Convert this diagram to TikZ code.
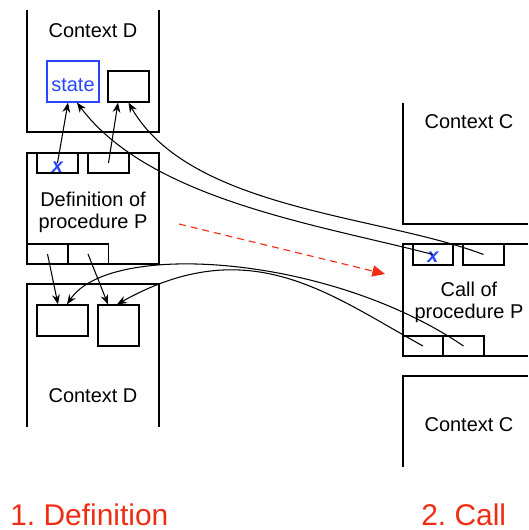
\documentclass[tikz,border=0pt]{standalone}
\usepackage{fontspec}
\setmainfont{Liberation Sans}
\usetikzlibrary{arrows.meta,calc}
\newcommand{\px}{0.25mm}
\definecolor{labelred}{RGB}{240,45,20}
\definecolor{stateblue}{RGB}{40,70,255}
\frenchspacing

\begin{document}
\begin{tikzpicture}[x=\px,y=-\px,>={Stealth[length=7pt,width=5.5pt]},
    frame/.style={line width=0.9pt},
    cell/.style={draw,line width=0.9pt,inner sep=0pt,minimum width=41*\px,minimum height=21*\px},
    link/.style={->,line width=0.75pt},
    words/.style={font=\fontsize{14.2}{15.6}\selectfont,align=center},
    xmark/.style={anchor=base,text=stateblue,inner sep=0pt,font=\fontsize{14.2}{15.6}\selectfont\bfseries\itshape},
    tag/.style={anchor=base west,text=labelred,inner sep=0pt,font=\fontsize{21.3}{24}\selectfont}]
			\useasboundingbox (0,0) rectangle (528,530);

			% the two contexts of the definition
			\draw[frame] (27,10) -- (27,132) -- (159,132) -- (159,10);
			\draw[frame] (27,153) rectangle (159,264);
			\draw[frame] (27,427) -- (27,284) -- (159,284) -- (159,427);

			% the two contexts of the call
			\draw[frame] (403,103) -- (403,224) -- (528,224);
			\draw[frame] (528,244) -- (403,244) -- (403,356) -- (528,356);
			\draw[frame] (403,467) -- (403,376) -- (528,376);

			\node[words] (ctxDtop) at (93,31) {Context D};
			\node[words] (defText) at (93,212) {Definition of\\procedure P};
			\node[words] (ctxDbot) at (93,396) {Context D};
			\node[words] (ctxCtop) at (469,122) {Context C};
			\node[words] (callText) at (469,302) {Call of\\procedure P};
			\node[words] (ctxCbot) at (469,425) {Context C};

			\node[cell,draw=stateblue,minimum width=52*\px,minimum height=41*\px,
			  label={[words,text=stateblue,yshift=-2.5pt]center:state}] (state) at (73,81.5) {};
			\node[cell,minimum height=31*\px] (slotD) at (128.5,86.5) {};

			\node[cell,minimum height=20*\px] (defX) at (57.5,163) {};
			\node[cell,minimum height=20*\px] (defY) at (108.5,163) {};
			\node[cell,minimum height=20*\px] (defA) at (47.5,254) {};
			\node[cell,minimum height=20*\px] (defB) at (88,254) {};

			\node[cell,minimum width=51*\px,minimum height=31*\px] (boxP) at (62.5,320.5) {};
			\node[cell,minimum height=41*\px] (boxQ) at (118.5,325.5) {};

			\node[cell,minimum width=40*\px] (callX) at (433,254.5) {};
			\node[cell] (callY) at (483.5,254.5) {};
			\node[cell,minimum width=40*\px,minimum height=20*\px] (callA) at (423,346) {};
			\node[cell,minimum height=20*\px] (callB) at (463.5,346) {};

			\node[xmark] (xDef) at ($(defX.south)+(0,-1.5)$) {x};
			\node[xmark] (xCall) at ($(callX.south)+(0,-3)$) {x};

			\draw[link] (defX.center) -- ($(state.south)+(-5,0)$);
			\draw[link] (defY.center) -- ($(slotD.south)+(-10.5,0)$);
			\draw[link] (callX.center) .. controls (320,225) and (150,200) .. ($(state.south)+(4,0)$);
			\draw[link] (callY.center) .. controls (380,215) and (190,210) .. (slotD.south);

			\draw[link] (defA.center) -- ($(boxP.north)+(-4.5,0)$);
			\draw[link] (defB.center) -- ($(boxQ.north)+(-10.5,0)$);
			\draw[link] (callB.center) .. controls (330,255) and (110,240) .. ($(boxP.north)+(4.5,0)$);
			\draw[link] (callA.center) .. controls (330,295) and (250,230) .. ($(boxQ.north)+(-1.5,0)$);

			\coordinate (moveFrom) at (179,224);
			\coordinate (moveTo) at (385,274);
			\draw[-{Triangle[length=9pt,width=8pt]},labelred,line width=0.8pt,dash pattern=on 5pt off 3.5pt] (moveFrom) -- (moveTo);

			\node[tag] (stepDef) at (10,525) {1. Definition};
			\node[tag] (stepCall) at (421,525) {2. Call};
		\end{tikzpicture}
\end{document}
